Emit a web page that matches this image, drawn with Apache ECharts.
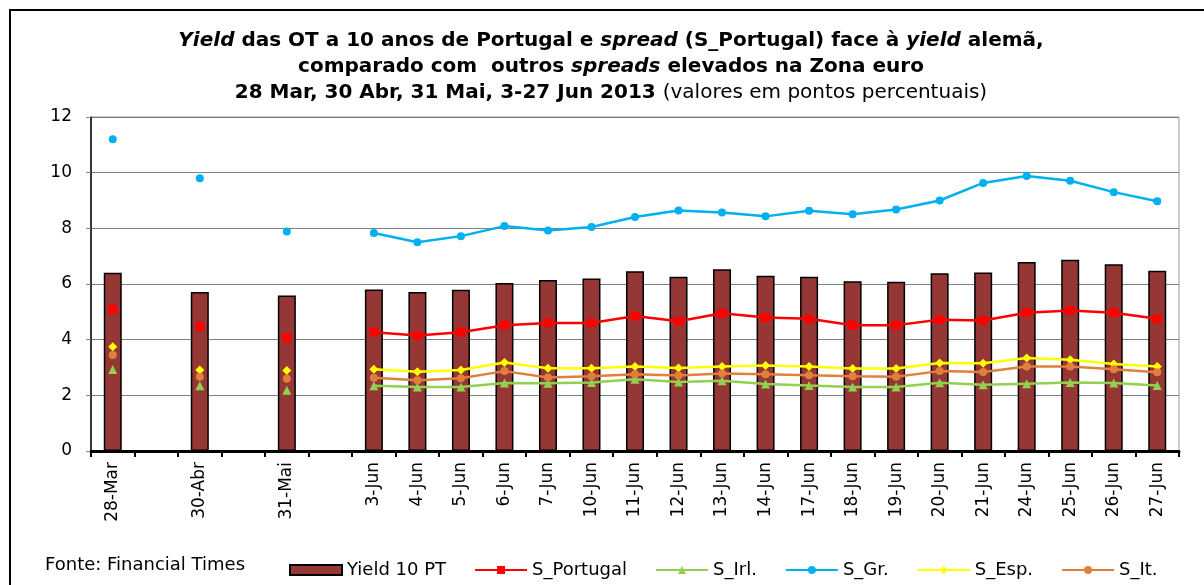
<!DOCTYPE html>
<html>
<head>
<meta charset="utf-8">
<script src="https://cdn.jsdelivr.net/npm/echarts@6/dist/echarts.min.js"></script>
<style>
  html, body { margin: 0; padding: 0; background: #fff; }
  #chart { width: 1204px; height: 585px; }
</style>
</head>
<body>
<div id="chart"></div>
<script>
// categorias (as vazias separam as datas isoladas)
const categories = ['28-Mar', ' ', '30-Abr', '  ', '31-Mai', '   ', '3-Jun', '4-Jun', '5-Jun', '6-Jun', '7-Jun',
  '10-Jun', '11-Jun', '12-Jun', '13-Jun', '14-Jun', '17-Jun', '18-Jun', '19-Jun', '20-Jun', '21-Jun',
  '24-Jun', '25-Jun', '26-Jun', '27-Jun']

const yieldPT = [6.40, null, 5.71, null, 5.59, null, 5.80, 5.71, 5.79, 6.04, 6.14, 6.20, 6.46, 6.26, 6.53, 6.30,
  6.26, 6.10, 6.08, 6.39, 6.41, 6.79, 6.87, 6.71, 6.48]
const sPortugal = [5.09, null, 4.48, null, 4.06, null, 4.27, 4.15, 4.27, 4.52, 4.60, 4.60, 4.85, 4.66, 4.95, 4.80,
  4.75, 4.52, 4.52, 4.72, 4.69, 4.97, 5.05, 4.97, 4.75]
const sIrl = [2.93, null, 2.34, null, 2.18, null, 2.34, 2.30, 2.30, 2.44, 2.43, 2.46, 2.58, 2.48, 2.52, 2.41,
  2.35, 2.30, 2.30, 2.45, 2.38, 2.42, 2.46, 2.44, 2.35]
const sGr = [11.2, null, 9.80, null, 7.89, null, 7.83, 7.50, 7.72, 8.08, 7.92, 8.05, 8.41, 8.64, 8.57, 8.43,
  8.63, 8.51, 8.68, 9.00, 9.63, 9.88, 9.71, 9.30, 8.97]
const sEsp = [3.75, null, 2.91, null, 2.89, null, 2.94, 2.85, 2.91, 3.18, 2.97, 2.97, 3.04, 2.98, 3.04, 3.07,
  3.04, 2.96, 2.96, 3.16, 3.15, 3.34, 3.28, 3.13, 3.04]
const sIt = [3.45, null, 2.67, null, 2.60, null, 2.63, 2.54, 2.61, 2.87, 2.64, 2.69, 2.76, 2.71, 2.78, 2.76,
  2.72, 2.69, 2.67, 2.87, 2.84, 3.04, 3.04, 2.94, 2.83]

const font = 'DejaVu Sans'

const chart = echarts.init(document.getElementById('chart'))

const lineSeries = (name, data, color, symbol, size) => ({
  name,
  type: 'line',
  data,
  symbol,
  symbolSize: size,
  connectNulls: false,
  lineStyle: { color, width: 2.5 },
  itemStyle: { color },
  z: 3
})

chart.setOption({
  animation: false,
  textStyle: { fontFamily: font },
  title: {
    left: 606,
    top: 23,
    textAlign: 'center',
    text: '{bi|Yield}{b| das OT a 10 anos de Portugal e }{bi|spread}{b| (S_Portugal) face à }{bi|yield}{b| alemã,}\n' +
      '{b|comparado com  outros }{bi|spreads}{b| elevados na Zona euro}\n' +
      '{b|28 Mar, 30 Abr, 31 Mai, 3-27 Jun 2013 }{n|(valores em pontos percentuais)}',
    textStyle: {
      lineHeight: 26,
      rich: {
        b: { fontFamily: font, fontSize: 20, fontWeight: 'bold', color: '#000', lineHeight: 26 },
        bi: { fontFamily: font, fontSize: 20, fontWeight: 'bold', fontStyle: 'italic', color: '#000', lineHeight: 26 },
        n: { fontFamily: font, fontSize: 20, fontWeight: 'normal', color: '#000', lineHeight: 26 }
      }
    }
  },
  graphic: [
    {
      type: 'rect',
      shape: { x: 10, y: 10, width: 1210, height: 600 },
      style: { fill: 'none', stroke: '#000', lineWidth: 2 },
      silent: true
    },
    {
      type: 'text',
      left: 45,
      top: 556,
      style: { text: 'Fonte: Financial Times', fontFamily: font, fontSize: 18, fill: '#000' }
    }
  ],
  legend: {
    left: 284,
    top: 556,
    itemGap: 28,
    itemWidth: 52,
    itemHeight: 10,
    textStyle: { fontFamily: font, fontSize: 18, color: '#000' },
    data: [{ name: 'Yield 10 PT', icon: 'rect' }, 'S_Portugal', 'S_Irl.', 'S_Gr.', 'S_Esp.', 'S_It.']
  },
  grid: {
    left: 91,
    right: 25,
    top: 117,
    bottom: 134,
    show: true,
    borderColor: '#999',
    borderWidth: 1
  },
  xAxis: {
    type: 'category',
    data: categories,
    boundaryGap: true,
    axisLine: { lineStyle: { color: '#000', width: 3 } },
    axisTick: { show: true, interval: 0, length: 6, lineStyle: { color: '#000', width: 2 } },
    axisLabel: {
      interval: 0,
      rotate: 90,
      margin: 11,
      fontFamily: font,
      fontSize: 17,
      color: '#000'
    }
  },
  yAxis: {
    type: 'value',
    min: 0,
    max: 12,
    interval: 2,
    axisLine: { show: true, lineStyle: { color: '#000', width: 1.5 } },
    axisTick: { show: true, length: 5, lineStyle: { color: '#888' } },
    axisLabel: { margin: 19, fontFamily: font, fontSize: 17, color: '#000' },
    splitLine: { lineStyle: { color: '#808080', width: 1 } }
  },
  series: [
    {
      name: 'Yield 10 PT',
      type: 'bar',
      data: yieldPT,
      barWidth: 18,
      itemStyle: { color: '#953735', borderColor: '#000', borderWidth: 1.5 },
      z: 2
    },
    lineSeries('S_Portugal', sPortugal, '#FF0000', 'rect', 9),
    lineSeries('S_Irl.', sIrl, '#92D050', 'triangle', 9),
    lineSeries('S_Gr.', sGr, '#00B0F0', 'circle', 8),
    lineSeries('S_Esp.', sEsp, '#FFFF00', 'diamond', 9),
    lineSeries('S_It.', sIt, '#E0803C', 'circle', 8)
  ]
})
</script>
</body>
</html>
